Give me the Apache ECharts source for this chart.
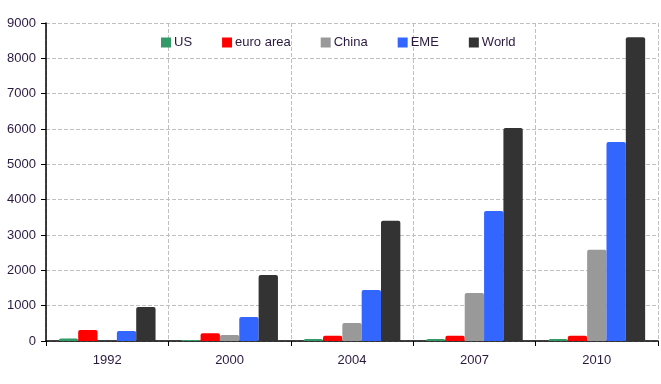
<!DOCTYPE html>
<html><head><meta charset="utf-8">
<script src="https://cdn.jsdelivr.net/npm/echarts@6/dist/echarts.min.js"></script>
<style>html,body{margin:0;padding:0;background:#fff}#c{width:661px;height:384px}</style>
</head><body><div id="c"></div>
<script>
var categories = ['1992', '2000', '2004', '2007', '2010'];
var usValues = [70, 30, 60, 60, 60];
var euroValues = [310, 220, 150, 150, 150];
var chinaValues = [0, 170, 510, 1360, 2580];
var emeValues = [280, 680, 1440, 3680, 5630];
var worldValues = [960, 1870, 3400, 6030, 8600];
var seriesNames = ['US', 'euro area', 'China', 'EME', 'World'];
var seriesColors = ['#339966', '#ff0000', '#999999', '#3366ff', '#333333'];
var yTicks = [0, 1000, 2000, 3000, 4000, 5000, 6000, 7000, 8000, 9000];

var allValues = [usValues, euroValues, chinaValues, emeValues, worldValues];
var txt = '#2a1a40';
var chart = echarts.init(document.getElementById('c'));
chart.setOption({
  animation: false,
  textStyle: {fontFamily: 'Liberation Sans, Arial, sans-serif'},
  grid: {left: 46, right: 3, top: 23, bottom: 43},
  legend: {
    left: 156, top: 31, itemWidth: 10, itemHeight: 10, itemGap: 30, icon: 'rect',
    textStyle: {color: txt, fontSize: 13, padding: [0, 0, 0, -2]},
    data: seriesNames
  },
  xAxis: {
    type: 'category', data: categories,
    axisLine: {lineStyle: {color: '#000', width: 1.5}},
    axisTick: {show: true, length: 5, lineStyle: {color: '#000'}},
    axisLabel: {color: txt, fontSize: 13, margin: 13},
    splitLine: {show: true, lineStyle: {color: '#c0c0c0', type: 'dashed'}}
  },
  yAxis: {
    type: 'value', min: yTicks[0], max: yTicks[yTicks.length - 1], interval: 1000,
    axisLine: {show: true, lineStyle: {color: '#000', width: 1.5}},
    axisTick: {show: true, length: 5, lineStyle: {color: '#000'}},
    axisLabel: {color: txt, fontSize: 13, margin: 10, formatter: function (v) { return String(v); }},
    splitLine: {lineStyle: {color: '#c0c0c0', type: 'dashed'}}
  },
  series: seriesNames.map(function (n, i) {
    return {
      name: n, type: 'bar', data: allValues[i],
      barGap: '0%', barCategoryGap: '21%',
      itemStyle: {color: seriesColors[i], borderRadius: [2, 2, 0, 0]}
    };
  })
});
</script></body></html>
